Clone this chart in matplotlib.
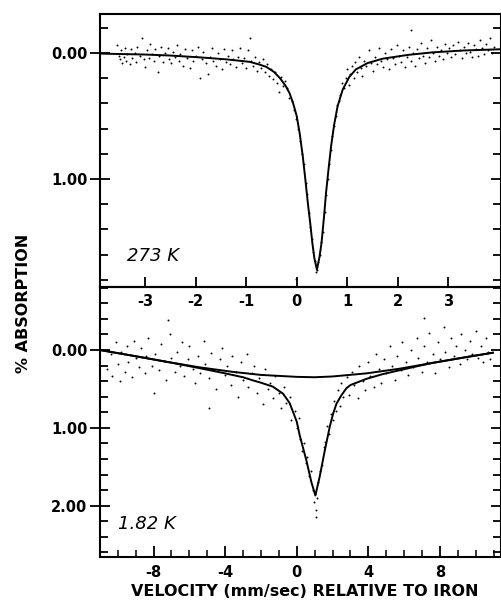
import numpy as np
import matplotlib
matplotlib.use('Agg')
import matplotlib.pyplot as plt
from matplotlib.ticker import MultipleLocator, FixedLocator

plt.rcParams['font.family'] = ['DejaVu Sans']
plt.rcParams['axes.unicode_minus'] = False

# ─── DATA: 273 K ───────────────────────────────────────────────────────────
fit_273_v = [-3.85, -3.0, -2.5, -1.9, -1.4, -0.93, -0.75, -0.6, -0.45, -0.33, -0.22,
             -0.14, -0.07, 0.0, 0.06, 0.12, 0.17, 0.22, 0.27, 0.31, 0.35, 0.40,
             0.45, 0.49, 0.54, 0.58, 0.63, 0.68, 0.74, 0.81, 0.91, 1.04, 1.17,
             1.4, 1.7, 2.2, 2.68, 3.3, 4.04]
fit_273_a = [0.005, 0.012, 0.02, 0.035, 0.05, 0.07, 0.09, 0.11, 0.15, 0.20, 0.26,
             0.32, 0.40, 0.50, 0.64, 0.82, 1.00, 1.19, 1.36, 1.51, 1.63, 1.72,
             1.62, 1.51, 1.30, 1.11, 0.92, 0.74, 0.57, 0.42, 0.29, 0.19, 0.13,
             0.08, 0.045, 0.015, -0.005, -0.02, -0.03]

pts_273_v = [-3.55, -3.52, -3.5, -3.47, -3.45, -3.42, -3.4, -3.37, -3.35, -3.3, -3.28, -3.25,
             -3.2, -3.17, -3.15, -3.1, -3.05, -3.02, -3.0, -2.97, -2.93, -2.9, -2.87, -2.83,
             -2.8, -2.75, -2.72, -2.68, -2.65, -2.6, -2.55, -2.52, -2.48, -2.45, -2.4, -2.37,
             -2.33, -2.3, -2.25, -2.2, -2.17, -2.12, -2.08, -2.05, -2.0, -1.96, -1.92, -1.88,
             -1.85, -1.8, -1.76, -1.72, -1.68, -1.65, -1.6, -1.55, -1.52, -1.48, -1.44, -1.4,
             -1.36, -1.32, -1.28, -1.25, -1.2, -1.16, -1.12, -1.08, -1.04, -1.0, -0.96, -0.93,
             -0.9, -0.86, -0.82, -0.78, -0.74, -0.7, -0.66, -0.62, -0.58, -0.54, -0.5, -0.46,
             -0.42, -0.38, -0.35, -0.32, -0.28, -0.24,
             -0.2, -0.15, -0.1, -0.06, -0.02, 0.03, 0.07, 0.1, 0.14, 0.18, 0.2, 0.24, 0.27,
             0.3, 0.33, 0.36, 0.39, 0.41, 0.43, 0.46, 0.49, 0.52, 0.55, 0.58, 0.61, 0.64,
             0.67, 0.7, 0.74, 0.77, 0.8, 0.83, 0.86, 0.9, 0.93,
             0.97, 1.0, 1.03, 1.06, 1.1, 1.13, 1.16, 1.2, 1.24, 1.27, 1.3, 1.34, 1.38, 1.42,
             1.46, 1.5, 1.54, 1.58, 1.62, 1.66, 1.7, 1.74, 1.78, 1.82, 1.86, 1.9, 1.94, 1.98,
             2.02, 2.06, 2.1, 2.14, 2.18, 2.22, 2.26, 2.3, 2.34, 2.38, 2.42, 2.46, 2.5, 2.54,
             2.58, 2.62, 2.66, 2.7, 2.74, 2.78, 2.82, 2.86, 2.9, 2.94, 2.98, 3.02, 3.06, 3.1,
             3.14, 3.18, 3.22, 3.26, 3.3, 3.34, 3.38, 3.42, 3.46, 3.5, 3.54, 3.58, 3.62, 3.66,
             3.7, 3.74, 3.78, 3.82, 3.86, 3.9, 2.26, -0.02]
pts_273_a = [-0.06, 0.02, 0.05, -0.02, 0.08, 0.03, -0.04, 0.06, 0.01, 0.09, -0.03, 0.04,
             0.0, 0.07, -0.05, 0.02, -0.12, 0.05, 0.11, -0.02, 0.04, -0.07, 0.01, 0.06,
             -0.03, 0.15, 0.02, -0.05, 0.07, 0.0, -0.04, 0.05, 0.08, -0.01, 0.03, -0.06,
             0.06, 0.01, 0.10, -0.03, 0.04, 0.12, -0.02, 0.06, 0.02, -0.05, 0.20, 0.05,
             -0.01, 0.08, 0.17, 0.03, -0.04, 0.06, 0.10, 0.0, 0.05, 0.13, -0.03, 0.07,
             0.02, 0.09, -0.02, 0.05, 0.11, 0.03, -0.04, 0.08, 0.04, 0.12, -0.02, -0.12,
             0.06, 0.10, 0.03, 0.14, 0.07, 0.12, 0.05, 0.15, 0.09, 0.18, 0.13, 0.21,
             0.15, 0.24, 0.31, 0.19, 0.26, 0.22,
             0.28, 0.36, 0.38, 0.45, 0.52, 0.60, 0.70, 0.80, 0.88, 1.03, 1.12, 1.27, 1.38,
             1.48, 1.58, 1.65, 1.74, 1.72, 1.66, 1.60, 1.50, 1.42, 1.26, 1.13, 1.00, 0.88,
             0.77, 0.66, 0.58, 0.50, 0.41, 0.38, 0.33, 0.24, 0.28,
             0.20, 0.13, 0.25, 0.17, 0.10, 0.20, 0.07, 0.15, 0.03, 0.12, 0.18, 0.06, 0.10, -0.02,
             0.08, 0.14, 0.03, 0.09, -0.04, 0.06, 0.11, 0.0, 0.05, 0.13, -0.03, 0.04, 0.09, -0.06,
             0.02, 0.07, -0.02, 0.11, 0.03, -0.05, 0.06, 0.0, 0.10, -0.03, 0.04, -0.08, 0.02, 0.08,
             -0.04, 0.03, -0.10, 0.0, 0.06, -0.05, 0.02, -0.02, 0.05, -0.07, 0.0, -0.04, 0.03, -0.06,
             0.01, -0.09, -0.02, 0.04, -0.05, 0.0, -0.08, -0.01, 0.03, -0.06, -0.03, 0.02, -0.10, -0.04,
             0.01, -0.07, -0.02, -0.12, 0.0, -0.05, -0.18, 1.79]

# ─── DATA: 1.82 K ──────────────────────────────────────────────────────────
broad_182_v = [-11.0, -9.0, -7.3, -5.5, -3.6, -2.0, 0.0, 1.0, 2.0, 3.9, 5.75, 7.6, 9.5, 10.95]
broad_182_a = [0.0, 0.08, 0.15, 0.22, 0.28, 0.32, 0.345, 0.35, 0.34, 0.30, 0.24, 0.165, 0.09, 0.035]

fit_182_v = [-11.0, -9.0, -7.3, -5.5, -4.0, -3.0, -2.45, -2.0, -1.34, -0.77, -0.4, -0.2,
             0.0, 0.17, 0.54, 0.82, 1.04, 1.28, 1.56, 1.84, 2.03, 2.22, 2.5, 2.78, 3.0,
             3.9, 4.8, 5.75, 6.7, 7.6, 9.5, 10.95]
fit_182_a = [0.0, 0.08, 0.15, 0.23, 0.30, 0.35, 0.39, 0.42, 0.47, 0.56, 0.68, 0.80,
             0.92, 1.10, 1.42, 1.70, 1.87, 1.63, 1.30, 0.99, 0.82, 0.69, 0.58, 0.49, 0.45,
             0.37, 0.31, 0.26, 0.21, 0.165, 0.09, 0.035]

pts_182_v = [-10.6, -10.4, -10.3, -10.1, -10.0, -9.9, -9.8, -9.6, -9.5, -9.4, -9.2, -9.1,
             -9.0, -8.8, -8.7, -8.5, -8.4, -8.3, -8.1, -8.0, -7.9, -7.7, -7.6, -7.4, -7.3,
             -7.1, -7.0, -6.8, -6.7, -6.5, -6.4, -6.3, -6.1, -6.0, -5.8, -5.7, -5.5, -5.4,
             -5.2, -5.1, -4.9, -4.8, -4.6, -4.5, -4.3, -4.2, -4.0, -3.9, -3.7, -3.6, -3.4,
             -3.3, -3.1, -3.0, -2.8, -2.7, -2.5, -2.4, -2.2, -2.1, -1.9, -1.8, -1.6, -1.5,
             -1.3, -1.2, -1.0, -0.9, -0.7, -0.6, -0.4, -0.3, -0.1, 0.0, 0.1, 0.2, 0.3, 0.4,
             0.5, 0.6, 0.7, 0.8, 0.9, 0.95, 1.0, 1.05, 1.1, 1.15, 1.2, 1.3, 1.4, 1.5, 1.6,
             1.7, 1.8, 1.9, 2.0, 2.1, 2.2, 2.3, 2.4, 2.5, 2.6, 2.8, 2.9, 3.1, 3.2, 3.4, 3.5,
             3.7, 3.8, 4.0, 4.1, 4.3, 4.4, 4.6, 4.7, 4.9, 5.0, 5.2, 5.3, 5.5, 5.6, 5.8, 5.9,
             6.1, 6.2, 6.4, 6.5, 6.7, 6.8, 7.0, 7.1, 7.3, 7.4, 7.6, 7.7, 7.9, 8.0, 8.2, 8.3,
             8.5, 8.6, 8.8, 8.9, 9.1, 9.2, 9.4, 9.5, 9.7, 9.8, 10.0, 10.1, 10.3, 10.4, 10.6,
             10.7, 10.8, -7.2, 7.1, -4.9]
pts_182_a = [0.25, 0.05, 0.33, -0.10, 0.18, 0.40, 0.02, 0.28, -0.05, 0.15, 0.35, -0.12,
             0.10, 0.22, -0.02, 0.30, 0.08, -0.15, 0.20, 0.55, 0.05, 0.26, -0.08, 0.14, 0.38,
             -0.20, 0.10, 0.28, 0.02, 0.20, -0.10, 0.34, 0.12, -0.05, 0.25, 0.42, 0.08, 0.30,
             -0.12, 0.18, 0.36, 0.04, 0.26, 0.50, 0.12, -0.02, 0.32, 0.20, 0.45, 0.08, 0.28,
             0.60, 0.15, 0.38, 0.05, 0.48, 0.30, 0.20, 0.55, 0.36, 0.70, 0.25, 0.50, 0.42,
             0.62, 0.33, 0.55, 0.75, 0.48, 0.68, 0.60, 0.90, 0.78, 1.00, 0.88, 1.15, 1.30, 1.20,
             1.45, 1.38, 1.62, 1.55, 1.80, 1.95, 1.85, 2.05, 2.15, 1.90, 1.70, 1.55, 1.48, 1.25, 1.18,
             0.98, 1.08, 0.82, 0.90, 0.65, 0.78, 0.52, 0.72, 0.42, 0.60, 0.35, 0.58, 0.28, 0.45, 0.62, 0.20,
             0.40, 0.52, 0.15, 0.33, 0.48, 0.05, 0.25, 0.42, 0.12, 0.30, -0.05, 0.20, 0.38, 0.08, 0.26, -0.10,
             0.15, 0.32, 0.0, 0.22, -0.15, 0.10, 0.28, -0.05, 0.15, -0.22, 0.05, 0.30, -0.10, 0.12, -0.30, 0.02,
             0.22, -0.15, 0.08, -0.05, 0.18, -0.20, 0.0, 0.12, -0.12, 0.05, -0.25, 0.10, -0.05, 0.15, -0.15,
             0.03, 0.12, -0.38, -0.41, 0.75]

fig = plt.figure(figsize=(5.02, 6.07), dpi=100)
ax1 = fig.add_axes([0.1992, 0.5272, 0.7988, 0.4498])
ax2 = fig.add_axes([0.1992, 0.0824, 0.7988, 0.4448])
# top panel's velocity labels sit inside the lower panel, so draw it on top
ax1.set_zorder(3)
ax1.patch.set_visible(False)

lbl_font = dict(family='DejaVu Sans', weight='bold', size=10.5)

# ─── TOP PANEL (273 K) ─────────────────────────────────────────────────────
ax1.plot(pts_273_v, pts_273_a, 'o', color='black', markersize=1.4, markeredgewidth=0)
ax1.plot(fit_273_v, fit_273_a, '-', color='black', linewidth=1.4)
ax1.set_xlim(-3.89, 4.04)
ax1.set_ylim(1.857, -0.31)
ax1.xaxis.set_major_locator(FixedLocator([-3, -2, -1, 0, 1, 2, 3]))
ax1.yaxis.set_major_locator(FixedLocator([0.0, 1.0]))
ax1.yaxis.set_minor_locator(MultipleLocator(0.2))
ax1.set_xticklabels(['-3', '-2', '-1', '0', '1', '2', '3'], fontdict=lbl_font)
ax1.set_yticklabels(['0.00', '1.00'], fontdict=lbl_font)
ax1.tick_params(axis='x', which='major', direction='in', length=7, width=1.3,
                top=False, bottom=True, pad=5)
ax1.tick_params(axis='y', which='major', direction='inout', length=14, width=1.3,
                left=True, right=True, pad=2)
ax1.tick_params(axis='y', which='minor', direction='in', length=6, width=1.3,
                left=True, right=True)
ax1.text(-3.35, 1.61, '273 K', fontsize=13, style='italic', va='center', ha='left')

# ─── BOTTOM PANEL (1.82 K) ─────────────────────────────────────────────────
ax2.plot(pts_182_v, pts_182_a, 'o', color='black', markersize=1.4, markeredgewidth=0)
ax2.plot(broad_182_v, broad_182_a, '-', color='black', linewidth=1.4)
ax2.plot(fit_182_v, fit_182_a, '-', color='black', linewidth=1.4)
ax2.set_xlim(-10.99, 11.41)
ax2.set_ylim(2.66, -0.81)
ax2.xaxis.set_major_locator(FixedLocator([-8, -4, 0, 4, 8]))
ax2.xaxis.set_minor_locator(MultipleLocator(1))
ax2.yaxis.set_major_locator(FixedLocator([0.0, 1.0, 2.0]))
ax2.yaxis.set_minor_locator(MultipleLocator(0.2))
ax2.set_xticklabels(['-8', '-4', '0', '4', '8'], fontdict=lbl_font)
ax2.set_yticklabels(['0.00', '1.00', '2.00'], fontdict=lbl_font)
ax2.tick_params(axis='x', which='major', direction='in', length=8, width=1.3,
                top=False, pad=6)
ax2.tick_params(axis='x', which='minor', direction='in', length=5, width=1.1, top=False)
ax2.tick_params(axis='y', which='major', direction='inout', length=14, width=1.3,
                left=True, right=True, pad=2)
ax2.tick_params(axis='y', which='minor', direction='in', length=6, width=1.3,
                left=True, right=True)
ax2.text(-10.0, 2.23, '1.82 K', fontsize=13, style='italic', va='center', ha='left')

for ax in (ax1, ax2):
    for s in ax.spines.values():
        s.set_linewidth(1.5)

fig.text(24 / 502, 1 - 303 / 607, '% ABSORPTION', rotation=90, ha='center', va='center',
         fontsize=11.5, weight='bold')
fig.text(305 / 502, 1 - 591 / 607, 'VELOCITY (mm/sec) RELATIVE TO IRON', ha='center',
         va='center', fontsize=11.5, weight='bold')

fig.savefig('out.png', dpi=100)
